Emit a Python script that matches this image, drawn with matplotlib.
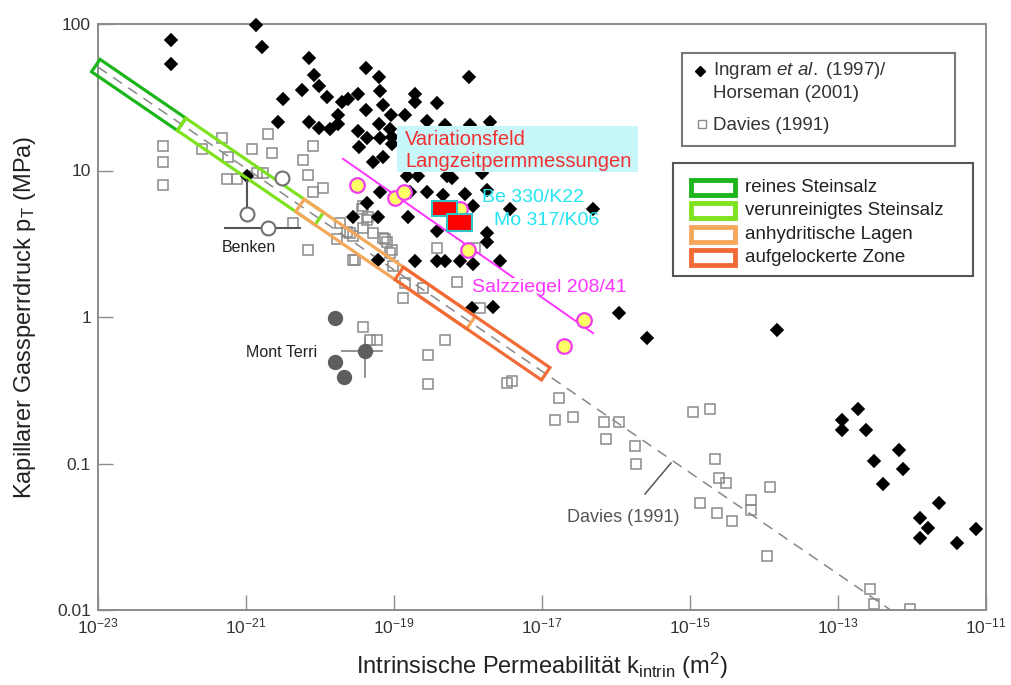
import matplotlib
matplotlib.use('Agg')
import matplotlib.pyplot as plt
from matplotlib.patches import Rectangle, Polygon
import numpy as np

plt.rcParams['font.family'] = ['Liberation Sans', 'DejaVu Sans']
plt.rcParams['mathtext.fontset'] = 'custom'
plt.rcParams['mathtext.rm'] = 'Liberation Sans'
plt.rcParams['mathtext.it'] = 'Liberation Sans:italic'
plt.rcParams['mathtext.default'] = 'regular'

# --- data (log10 k in m2, log10 p in MPa) ---
ingram_log_k = [-22.01, -22.01, -20.86, -20.78, -20.15, -20.08, -20.01, -20.24, -20.50, -19.91,
                -19.70, -19.62, -19.49, -19.38, -19.20, -19.19, -19.15, -19.38, -19.04, -18.85,
                -18.72, -18.72, -18.42, -17.99, -18.55, -18.31, -17.97, -17.70, -19.76, -19.76,
                -20.57, -20.15, -20.01, -19.86, -19.20, -19.49, -19.36, -19.19, -19.05, -19.03,
                -19.03, -19.47, -19.15, -19.28, -18.82, -18.68, -18.28, -18.22, -17.81, -19.19,
                -19.36, -18.78, -18.55, -18.34, -18.04, -17.93, -18.81, -19.55, -19.22, -18.42,
                -17.74, -17.74, -17.74, -19.22, -18.72, -18.42, -18.31, -18.11, -17.93, -17.57,
                -17.43, -16.31, -17.95, -17.66, -15.96, -15.58, -13.82, -12.95, -12.95, -12.73,
                -12.62, -12.51, -12.18, -12.12, -12.39, -11.64, -11.89, -11.78, -11.89, -11.39,
                -11.14, -20.99]
ingram_log_p = [1.89, 1.73, 1.99, 1.84, 1.77, 1.65, 1.58, 1.55, 1.49, 1.50,
                1.47, 1.49, 1.52, 1.70, 1.64, 1.54, 1.45, 1.41, 1.38, 1.38,
                1.52, 1.47, 1.46, 1.64, 1.34, 1.31, 1.31, 1.33, 1.38, 1.32,
                1.33, 1.33, 1.29, 1.28, 1.32, 1.27, 1.22, 1.22, 1.28, 1.23,
                1.18, 1.16, 1.09, 1.06, 0.96, 0.96, 0.96, 0.95, 0.98, 0.85,
                0.78, 0.85, 0.85, 0.83, 0.84, 0.76, 0.68, 0.68, 0.68, 0.59,
                0.87, 0.57, 0.51, 0.39, 0.38, 0.38, 0.38, 0.38, 0.36, 0.38,
                0.74, 0.74, 0.06, 0.07, 0.03, -0.14, -0.09, -0.70, -0.77, -0.63,
                -0.77, -0.98, -0.91, -1.04, -1.14, -1.27, -1.37, -1.44, -1.51, -1.54,
                -1.45, 0.96]

davies_log_k = [-22.12, -22.12, -22.12, -21.59, -21.32, -21.24, -21.26, -21.12, -20.92, -20.70,
                -20.65, -20.85, -20.77, -20.23, -20.09, -20.16, -19.96, -20.09, -20.36, -20.16,
                -19.53, -19.73, -19.64, -19.77, -19.55, -19.42, -19.35, -19.28, -19.15, -19.09,
                -19.03, -19.42, -19.43, -19.36, -19.59, -19.05, -19.55, -18.42, -17.91, -18.15,
                -18.88, -18.61, -19.12, -19.01, -18.85, -17.84, -19.42, -19.32, -19.23, -18.31,
                -18.54, -18.54, -17.47, -17.41, -16.77, -16.82, -16.58, -16.16, -15.96, -16.14,
                -15.74, -15.73, -14.96, -14.73, -14.66, -14.61, -14.51, -14.86, -14.64, -14.43,
                -14.18, -14.18, -13.92, -13.96, -12.57, -12.51, -12.03]
davies_log_p = [1.17, 1.06, 0.90, 1.15, 1.22, 1.09, 0.94, 0.94, 1.15, 1.25,
                1.12, 0.98, 0.98, 1.07, 1.17, 0.97, 0.88, 0.85, 0.64, 0.46,
                0.39, 0.64, 0.58, 0.53, 0.55, 0.61, 0.68, 0.57, 0.54, 0.51,
                0.46, 0.76, 0.74, 0.66, 0.57, 0.44, 0.39, 0.47, 0.47, 0.24,
                0.13, 0.20, 0.53, 0.35, 0.23, 0.06, -0.07, -0.16, -0.16, -0.16,
                -0.26, -0.46, -0.45, -0.44, -0.55, -0.70, -0.68, -0.72, -0.72, -0.83,
                -0.88, -1.00, -0.65, -0.63, -0.97, -1.10, -1.13, -1.27, -1.34, -1.39,
                -1.25, -1.32, -1.16, -1.63, -1.86, -1.96, -1.99]

# Davies (1991) trend line end points
trend_log_k = [-23.0, -12.29]
trend_log_p = [1.706, -2.0]

# Benken (open circles) and its error bars
benken_log_k = [-20.99, -20.70, -20.51]
benken_log_p = [0.70, 0.61, 0.95]
benken_p_bar = (-20.99, 0.74, 0.935)      # log k, log p from, log p to
benken_k_bar = (0.61, -21.28, -20.27)     # log p, log k from, log k to

# Mont Terri (filled circles)
mt_log_k = [-19.80, -19.39, -19.80, -19.68]
mt_log_p = [-0.01, -0.23, -0.31, -0.41]
mt_k_bar = (-0.23, -19.70, -19.16)
mt_p_bar = (-19.39, -0.14, -0.41)

# Salzziegel 208/41
sz_log_k = [-19.50, -18.99, -18.86, -18.11, -18.00, -16.43, -16.70]
sz_log_p = [0.90, 0.81, 0.85, 0.74, 0.46, -0.02, -0.20]
sz_trend_log_k = [-19.69, -16.31]
sz_trend_log_p = [1.08, -0.11]

# Be 330/K22, Mo 317/K06 fields
field_log_k = [(-18.49, -18.15), (-18.28, -17.95)]
field_log_p = [(0.69, 0.79), (0.59, 0.70)]

# zones along the Davies trend
zone_names = ['reines Steinsalz', 'verunreinigtes Steinsalz', 'anhydritische Lagen', 'aufgelockerte Zone']
zone_colors = ['#1cb51c', '#7ee21e', '#f5a75c', '#f26b36']
zone_log_k = [(-23.03, -21.87), (-21.87, -20.01), (-20.27, -17.96), (-18.93, -16.95)]

xtick_exp = [-23, -21, -19, -17, -15, -13, -11]
ytick_vals = [0.01, 0.1, 1, 10, 100]
ytick_labels = ['0.01', '0.1', '1', '10', '100']

grey = '#8c8c8c'

fig = plt.figure(figsize=(10.12, 6.85), dpi=100)
ax = fig.add_axes([98 / 1012, 75 / 685, 888 / 1012, 586 / 685])
ax.set_xscale('log')
ax.set_yscale('log')
ax.set_xlim(1e-23, 1e-11)
ax.set_ylim(0.01, 100)

ax.set_xticks([10.0 ** e for e in xtick_exp])
ax.set_xticklabels(['10$^{\\mathregular{%d}}$' % e for e in xtick_exp])
ax.set_yticks(ytick_vals)
ax.set_yticklabels(ytick_labels)
ax.minorticks_off()
ax.tick_params(direction='in', length=11, width=1, color=grey, labelcolor='#333333',
               labelsize=12.5, pad=5)
for s in ax.spines.values():
    s.set_color(grey)
    s.set_linewidth(1.4)

ax.set_ylabel('Kapillarer Gassperrdruck p$_T$ (MPa)', fontsize=17, color='#222222', labelpad=14)
ax.set_xlabel('Intrinsische Permeabilität k$_{intrin}$ (m$^2$)', fontsize=17, color='#222222', labelpad=10)


def tp(lk):
    return 10.0 ** np.asarray(lk)


# Davies trend
ax.plot(tp(trend_log_k), tp(trend_log_p), color='#888888', lw=1.1, ls=(0, (7, 5)), zorder=2)

# zone boxes, widened perpendicular to the trend in screen space
slope = (trend_log_p[1] - trend_log_p[0]) / (trend_log_k[1] - trend_log_k[0])
for (k0, k1), col in zip(zone_log_k, zone_colors):
    lk = np.array([k0, k1])
    lp = trend_log_p[0] + slope * (lk - trend_log_k[0])
    pts = ax.transData.transform(np.column_stack([tp(lk), tp(lp)]))
    d = pts[1] - pts[0]
    n = np.array([-d[1], d[0]]) / np.hypot(*d) * 7.5
    corners = np.array([pts[0] + n, pts[1] + n, pts[1] - n, pts[0] - n])
    ax.add_patch(Polygon(ax.transData.inverted().transform(corners), closed=True,
                         fill=False, edgecolor=col, lw=2.3, zorder=4, clip_on=False))

# Davies squares
ax.plot(tp(davies_log_k), tp(davies_log_p), ls='none', marker='s', ms=6.5, mfc='none',
        mec='#8a8a8a', mew=1.1, zorder=3)

# Ingram / Horseman
ax.plot(tp(ingram_log_k), tp(ingram_log_p), ls='none', marker='D', ms=6.5, color='black',
        mec='black', mew=1.2, zorder=3, clip_on=False)

# Benken
ax.plot([tp(benken_p_bar[0])] * 2, tp(benken_p_bar[1:]), color='#555555', lw=1.5, zorder=5)
ax.plot(tp(benken_k_bar[1:]), [tp(benken_k_bar[0])] * 2, color='#555555', lw=1.5, zorder=5)
ax.plot(tp(benken_log_k), tp(benken_log_p), ls='none', marker='o', ms=10, mfc='white',
        mec='#707070', mew=1.5, zorder=6)

# Mont Terri
ax.plot(tp(mt_k_bar[1:]), [tp(mt_k_bar[0])] * 2, color='#8a8a8a', lw=1.3, zorder=5)
ax.plot([tp(mt_p_bar[0])] * 2, tp(mt_p_bar[1:]), color='#8a8a8a', lw=1.3, zorder=5)
ax.plot(tp(mt_log_k), tp(mt_log_p), ls='none', marker='o', ms=10, color='#5e5e5e', zorder=6)

# Salzziegel
ax.plot(tp(sz_trend_log_k), tp(sz_trend_log_p), color='#ff33ff', lw=1.4, zorder=6)
ax.plot(tp(sz_log_k), tp(sz_log_p), ls='none', marker='o', ms=10.5, mfc='#ffff66',
        mec='#f03cf0', mew=1.6, zorder=7)

# measurement fields
for (k0, k1), (p0, p1) in zip(field_log_k, field_log_p):
    ax.add_patch(Rectangle((tp(k0), tp(p0)), tp(k1) - tp(k0), tp(p1) - tp(p0),
                           facecolor='#ff0000', edgecolor='#2fc4c8', lw=1.5, zorder=8))

# --- overlay in pixel coordinates for annotations and legends ---
ov = fig.add_axes([0, 0, 1, 1], zorder=10)
ov.set_xlim(0, 1012)
ov.set_ylim(685, 0)
ov.axis('off')
ov.patch.set_visible(False)

ov.add_patch(Rectangle((397, 126), 241, 46, facecolor='#c8f7fa', edgecolor='none'))
ov.text(405, 139, 'Variationsfeld', color='#f03030', fontsize=14.5, va='center')
ov.text(405, 161, 'Langzeitpermmessungen', color='#f03030', fontsize=14.5, va='center')
ov.text(482, 197, 'Be 330/K22', color='#22e4f2', fontsize=14, va='center')
ov.text(494, 220, 'Mo 317/K06', color='#22e4f2', fontsize=14, va='center')
ov.text(472, 287, 'Salzziegel 208/41', color='#ff33ff', fontsize=14, va='center',
        bbox=dict(facecolor='white', edgecolor='none', pad=0.5))
ov.text(222, 247, 'Benken', color='#222222', fontsize=11.5, va='center')
ov.text(246, 352, 'Mont Terri', color='#222222', fontsize=11.5, va='center')
ov.text(567, 517, 'Davies (1991)', color='#555555', fontsize=13, va='center')
ov.plot([645, 671], [494, 463], color='#555555', lw=1.1)

# legend 1
ov.add_patch(Rectangle((682, 53), 273, 93, facecolor='white', edgecolor='#777777', lw=1.5))
ov.plot(700, 71, marker='D', ms=5, color='black')
ov.text(713, 70, 'Ingram $\\it{et\\ al.}$ (1997)/', fontsize=13.5, color='#333333', va='center')
ov.text(713, 93, 'Horseman (2001)', fontsize=13.5, color='#333333', va='center')
ov.plot(702, 124, marker='s', ms=5.5, mfc='none', mec='#8a8a8a', mew=1)
ov.text(713, 125, 'Davies (1991)', fontsize=13.5, color='#333333', va='center')

# legend 2
ov.add_patch(Rectangle((673, 163), 300, 113, facecolor='white', edgecolor='#555555', lw=1.5))
for i, (name, col) in enumerate(zip(zone_names, zone_colors)):
    yc = 187 + i * 23.5
    ov.add_patch(Rectangle((691, yc - 7.5), 44, 15, facecolor='white', edgecolor=col, lw=3.5))
    ov.text(745, yc, name, fontsize=13.5, color='#222222', va='center')

fig.savefig('out.png', dpi=100)
